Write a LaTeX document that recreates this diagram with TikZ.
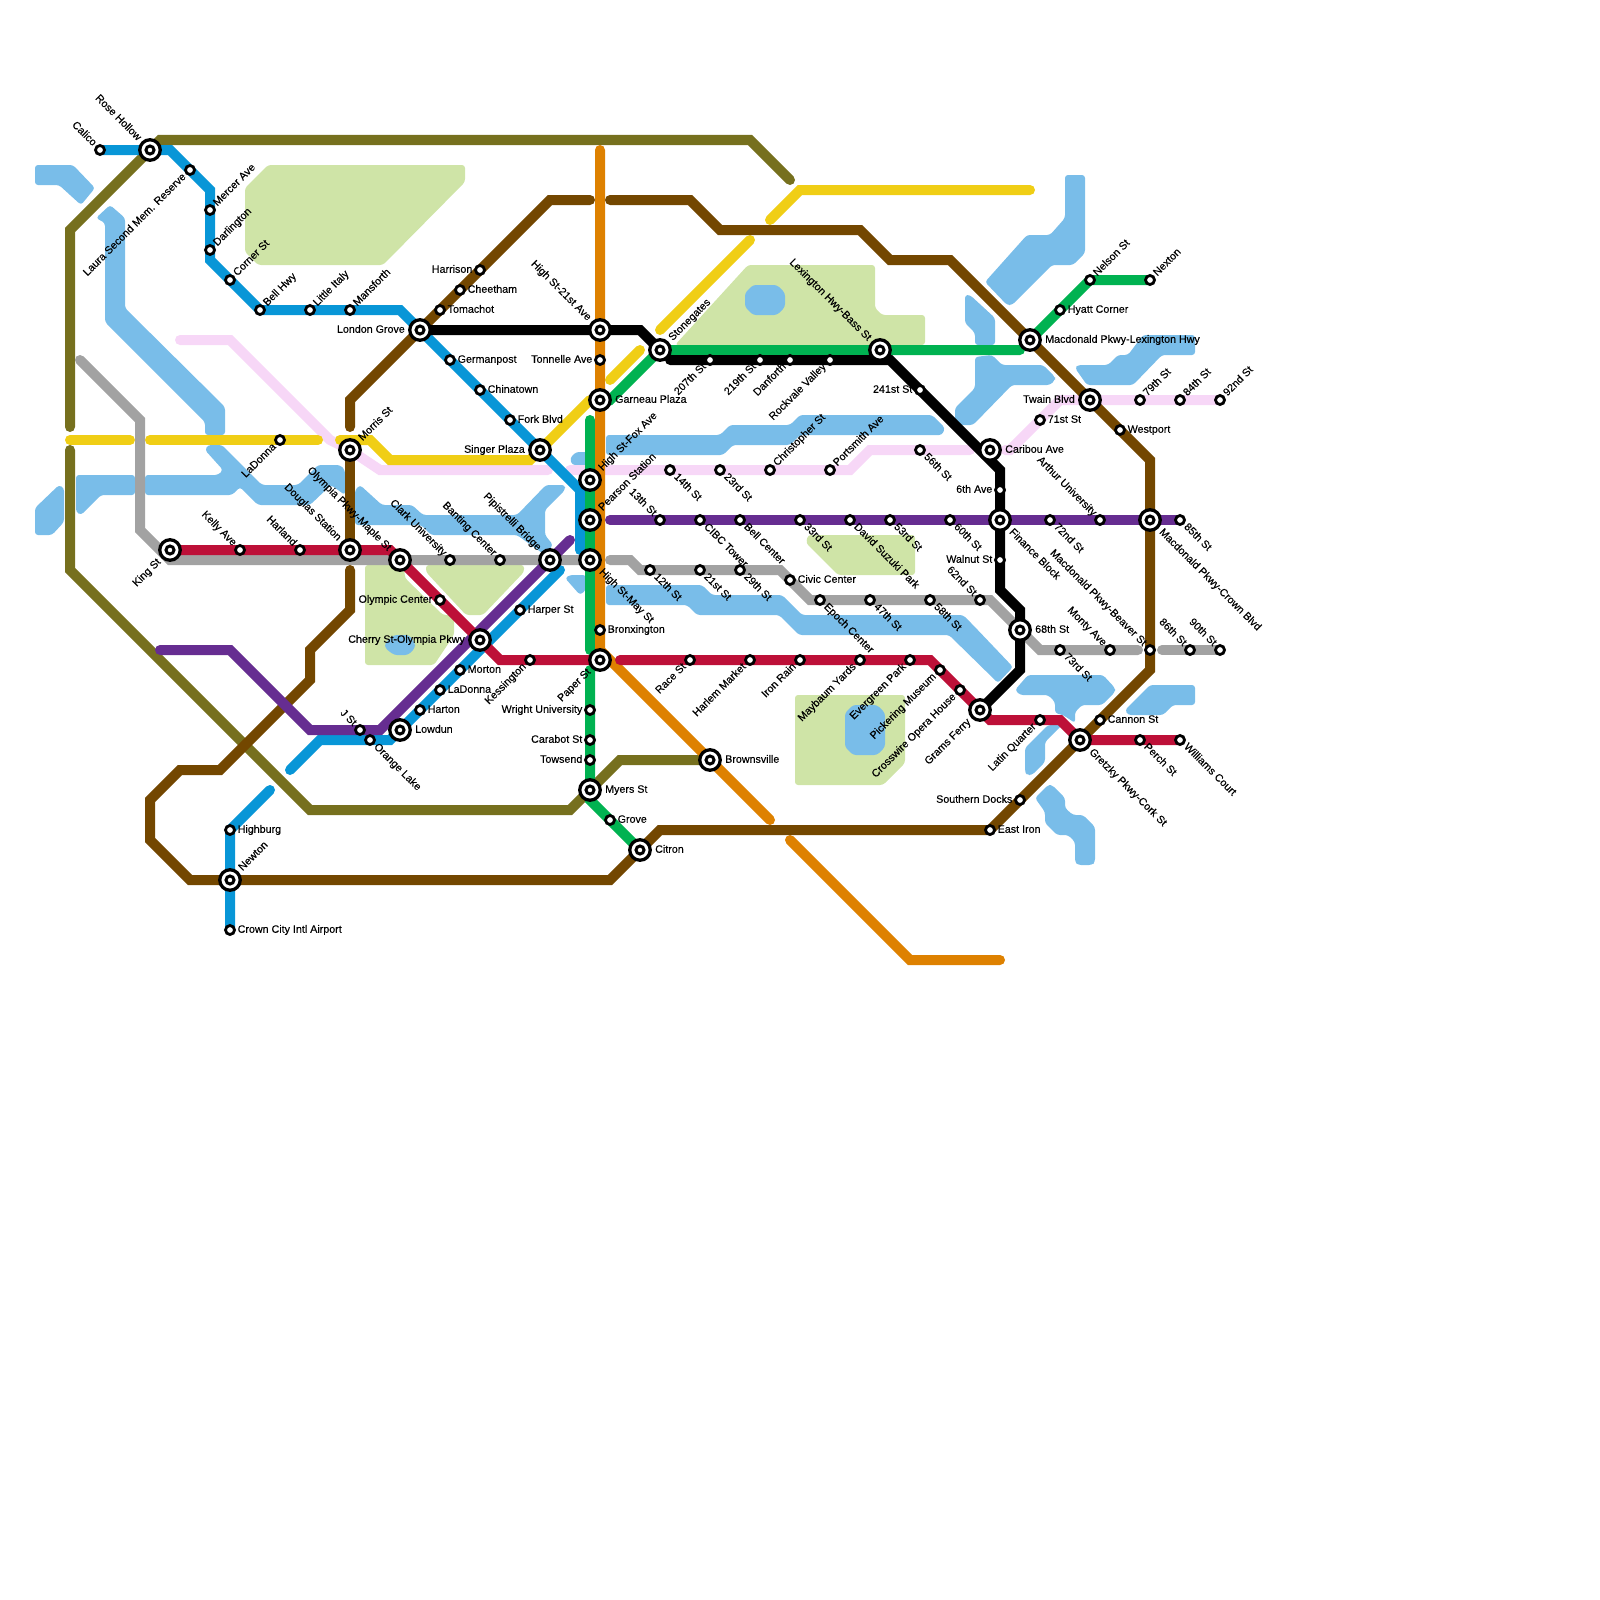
\documentclass[tikz,border=0pt]{standalone}
\usepackage{fontspec}
\setmainfont[FakeBold=0.2]{Liberation Sans}
\pgfdeclarelayer{top}
\pgfdeclarelayer{under}
\pgfsetlayers{under,main,top}
\definecolor{cWater}{HTML}{79BDE9}
\definecolor{cPark}{HTML}{CFE4A7}
\definecolor{cBlue}{HTML}{0896D7}
\definecolor{cOlive}{HTML}{76701E}
\definecolor{cBrown}{HTML}{734700}
\definecolor{cOrange}{HTML}{DE8100}
\definecolor{cYellow}{HTML}{F0CE15}
\definecolor{cPink}{HTML}{F7D7F7}
\definecolor{cPurple}{HTML}{662D91}
\definecolor{cRed}{HTML}{BD1038}
\definecolor{cGray}{HTML}{A2A2A2}
\definecolor{cGreen}{HTML}{00B251}
\tikzset{
  ln/.style={line width=10pt,line cap=round,line join=miter,miter limit=10},
  water/.style={fill=cWater,rounded corners=3pt},
  park/.style={fill=cPark,rounded corners=3pt},
  smst/.style={circle,draw=black,fill=white,line width=2.8pt,minimum size=9pt,inner sep=0pt,outer sep=0pt},
  inst/.style={circle,draw=black,fill=white,line width=3pt,minimum size=8pt,inner sep=0pt,outer sep=0pt},
  bigst/.style={circle,draw=black,fill=white,line width=3.3pt,minimum size=20.5pt,inner sep=0pt,outer sep=0pt},
  lbl/.style={font=\fontsize{10.7pt}{11pt}\selectfont,text height=7.6pt,text depth=2.1pt,inner ysep=0pt,text=black},
  lr/.style={lbl,anchor=west},
  ll/.style={lbl,anchor=east},
  lur/.style={lbl,anchor=west,rotate=45},
  ldr/.style={lbl,anchor=west,rotate=-45},
  lul/.style={lbl,anchor=east,rotate=-45},
  ldl/.style={lbl,anchor=east,rotate=45},
}
\newcommand\sm[5]{\coordinate (#1) at (#2,#3);
  \begin{pgfonlayer}{top}\node[smst] (m#1) at (#1) {};\node[#4,inner xsep=7.5pt] (t#1) at (#1) {#5};\end{pgfonlayer}}
\newcommand\ic[5]{\coordinate (#1) at (#2,#3);
  \begin{pgfonlayer}{top}\node[bigst] (m#1) at (#1) {};\node[inst] (c#1) at (#1) {};\node[#4,inner xsep=15pt] (t#1) at (#1) {#5};\end{pgfonlayer}}
\begin{document}
\begin{tikzpicture}[x=10pt,y=-10pt]
\useasboundingbox (0,0) rectangle (160,160);
% ---------- stations
\sm{calico}{10}{15}{lul}{Calico}
\ic{rose}{15}{15}{lul}{Rose Hollow}
\sm{laura}{19}{17}{ldl}{Laura Second Mem. Reserve}
\sm{mercer}{21}{21}{lur}{Mercer Ave}
\sm{darl}{21}{25}{lur}{Darlington}
\sm{corner}{23}{28}{lur}{Corner St}
\sm{bell}{26}{31}{lur}{Bell Hwy}
\sm{italy}{31}{31}{lur}{Little Italy}
\sm{mansf}{35}{31}{lur}{Mansforth}
\ic{london}{42}{33}{ll}{London Grove}
\sm{harrison}{48}{27}{ll}{Harrison}
\sm{cheetham}{46}{29}{lr}{Cheetham}
\sm{tomachot}{44}{31}{lr}{Tomachot}
\sm{german}{45}{36}{lr}{Germanpost}
\sm{china}{48}{39}{lr}{Chinatown}
\sm{fork}{51}{42}{lr}{Fork Blvd}
\ic{singer}{54}{45}{ll}{Singer Plaza}
\ic{hs21}{60}{33}{lul}{High St-21st Ave}
\sm{tonnelle}{60}{36}{ll}{Tonnelle Ave}
\ic{garneau}{60}{40}{lr}{Garneau Plaza}
\ic{stone}{66}{35}{lur}{Stonegates}
\sm{s207}{71}{36}{ldl}{207th St}
\sm{s219}{76}{36}{ldl}{219th St}
\sm{danforth}{79}{36}{ldl}{Danforth}
\sm{rockvale}{83}{36}{ldl}{Rockvale Valley}
\ic{lexbass}{88}{35}{lul}{Lexington Hwy-Bass St}
\sm{s241}{92}{39}{ll}{241st St}
\ic{caribou}{99}{45}{lr}{Caribou Ave}
\sm{sixth}{100}{49}{ll}{6th Ave}
\ic{finance}{100}{52}{ldr}{Finance Block}
\sm{walnut}{100}{56}{ll}{Walnut St}
\ic{hsfox}{59}{48}{lur}{High St-Fox Ave}
\ic{pearson}{59}{52}{lur}{Pearson Station}
\ic{hsmay}{59}{56}{ldr}{High St-May St}
\sm{s13}{66}{52}{lul}{13th St}
\sm{cibc}{70}{52}{ldr}{CIBC Tower}
\sm{bellc}{74}{52}{ldr}{Bell Center}
\sm{s33}{80}{52}{ldr}{33rd St}
\sm{suzuki}{85}{52}{ldr}{David Suzuki Park}
\sm{s53}{89}{52}{ldr}{53rd St}
\sm{s60}{95}{52}{ldr}{60th St}
\sm{s72}{105}{52}{ldr}{72nd St}
\sm{arthur}{110}{52}{lul}{Arthur University}
\ic{crown}{115}{52}{ldr}{Macdonald Pkwy-Crown Blvd}
\sm{s85}{118}{52}{ldr}{85th St}
\sm{s14}{67}{47}{ldr}{14th St}
\sm{s23}{72}{47}{ldr}{23rd St}
\sm{christ}{77}{47}{lur}{Christopher St}
\sm{ports}{83}{47}{lur}{Portsmith Ave}
\sm{s56}{92}{45}{ldr}{56th St}
\sm{s71}{104}{42}{lr}{71st St}
\ic{twain}{109}{40}{ll}{Twain Blvd}
\sm{s79}{114}{40}{lur}{79th St}
\sm{s84}{118}{40}{lur}{84th St}
\sm{s92}{122}{40}{lur}{92nd St}
\sm{westport}{112}{43}{lr}{Westport}
\ic{maclex}{103}{34}{lr}{Macdonald Pkwy-Lexington Hwy}
\sm{hyatt}{106}{31}{lr}{Hyatt Corner}
\sm{nelson}{109}{28}{lur}{Nelson St}
\sm{nexton}{115}{28}{lur}{Nexton}
\sm{ladonnan}{28}{44}{ldl}{LaDonna}
\ic{morris}{35}{45}{lur}{Morris St}
\ic{king}{17}{55}{ldl}{King St}
\sm{kelly}{24}{55}{lul}{Kelly Ave}
\sm{harland}{30}{55}{lul}{Harland}
\ic{douglas}{35}{55}{lul}{Douglas Station}
\ic{olympia}{40}{56}{lul}{Olympia Pkwy-Maple St}
\sm{clark}{45}{56}{lul}{Clark University}
\sm{banting}{50}{56}{lul}{Banting Center}
\ic{pipi}{55}{56}{lul}{Pipistrelli Bridge}
\sm{olympic}{44}{60}{ll}{Olympic Center}
\ic{cherry}{48}{64}{ll}{Cherry St-Olympia Pkwy}
\sm{harper}{52}{61}{lr}{Harper St}
\sm{morton}{46}{67}{lr}{Morton}
\sm{ladonnas}{44}{69}{lr}{LaDonna}
\sm{harton}{42}{71}{lr}{Harton}
\ic{lowdun}{40}{73}{lr}{Lowdun}
\sm{kess}{53}{66}{ldl}{Kessington}
\sm{jst}{36}{73}{lul}{J St}
\sm{orangel}{37}{74}{ldr}{Orange Lake}
\sm{highburg}{23}{83}{lr}{Highburg}
\ic{newton}{23}{88}{lur}{Newton}
\sm{airport}{23}{93}{lr}{Crown City Intl Airport}
\sm{s12}{65}{57}{ldr}{12th St}
\sm{s21}{70}{57}{ldr}{21st St}
\sm{s29}{74}{57}{ldr}{29th St}
\sm{civic}{79}{58}{lr}{Civic Center}
\sm{epoch}{82}{60}{ldr}{Epoch Center}
\sm{s47}{87}{60}{ldr}{47th St}
\sm{s58}{93}{60}{ldr}{58th St}
\sm{s62}{98}{60}{lul}{62nd St}
\ic{s68}{102}{63}{lr}{68th St}
\sm{s73}{106}{65}{ldr}{73rd St}
\sm{monty}{111}{65}{lul}{Monty Ave}
\sm{beaver}{115}{65}{lul}{Macdonald Pkwy-Beaver St}
\sm{s86}{119}{65}{lul}{86th St}
\sm{s90}{122}{65}{lul}{90th St}
\sm{bronx}{60}{63}{lr}{Bronxington}
\ic{paper}{60}{66}{ldl}{Paper St}
\sm{wright}{59}{71}{ll}{Wright University}
\sm{carabot}{59}{74}{ll}{Carabot St}
\sm{towsend}{59}{76}{ll}{Towsend}
\ic{myers}{59}{79}{lr}{Myers St}
\sm{grove}{61}{82}{lr}{Grove}
\ic{citron}{64}{85}{lr}{Citron}
\ic{browns}{71}{76}{lr}{Brownsville}
\sm{race}{69}{66}{ldl}{Race St}
\sm{harlem}{75}{66}{ldl}{Harlem Market}
\sm{iron}{80}{66}{ldl}{Iron Rain}
\sm{maybaum}{86}{66}{ldl}{Maybaum Yards}
\sm{evergreen}{91}{66}{ldl}{Evergreen Park}
\sm{picker}{94}{67}{ldl}{Pickering Museum}
\sm{crosswire}{96}{69}{ldl}{Crosswire Opera House}
\ic{grams}{98}{71}{ldl}{Grams Ferry}
\sm{latin}{104}{72}{ldl}{Latin Quarter}
\ic{gretzky}{108}{74}{ldr}{Gretzky Pkwy-Cork St}
\sm{cannon}{110}{72}{lr}{Cannon St}
\sm{perch}{114}{74}{ldr}{Perch St}
\sm{williams}{118}{74}{ldr}{Williams Court}
\sm{docks}{102}{80}{ll}{Southern Docks}
\sm{eastiron}{99}{83}{lr}{East Iron}
% ---------- free line ends
\coordinate (oliveA) at (79,18); \coordinate (oliveB) at (7,42.7); \coordinate (oliveC) at (7,45);
\coordinate (brownA) at (59,20); \coordinate (brownB) at (35,42.7); \coordinate (brownC) at (35,57); \coordinate (brownD) at (61,20);
\coordinate (blueA) at (58,55); \coordinate (blueB) at (29,77); \coordinate (blueC) at (56,57); \coordinate (blueD) at (27,79);
\coordinate (purpA) at (16,65); \coordinate (purpB) at (57,54); \coordinate (purpC) at (61,52);
\coordinate (redA) at (59,66); \coordinate (redB) at (62,66);
\coordinate (grayA) at (8,36); \coordinate (grayB) at (61,56); \coordinate (grayC) at (113.8,65); \coordinate (grayD) at (116.2,65);
\coordinate (greenA) at (59,42); \coordinate (greenB) at (59,65); \coordinate (greenC) at (59,67); \coordinate (greenD) at (102,35);
\coordinate (blackA) at (67,36);
\coordinate (orangeA) at (60,15); \coordinate (orangeB) at (77,82); \coordinate (orangeC) at (79,84); \coordinate (orangeD) at (100,96);
\coordinate (yelA) at (7,44); \coordinate (yelB) at (13,44); \coordinate (yelC) at (15,44); \coordinate (yelD) at (31.8,44);
\coordinate (yelE) at (34,44); \coordinate (yelF) at (59,40); \coordinate (yelG) at (61,38); \coordinate (yelH) at (64,35);
\coordinate (yelI) at (66,33); \coordinate (yelJ) at (75,24); \coordinate (yelK) at (77,22); \coordinate (yelL) at (103,19);
\coordinate (pinkA) at (18,34); \coordinate (pinkB) at (54.8,47); \coordinate (pinkC) at (57,47); \coordinate (pinkD) at (97,45); \coordinate (pinkE) at (100.5,45);
% ---------- water and parks
\begin{pgfonlayer}{under}
\begin{scope}[x=1pt,y=-1pt]
\fill[park] (268,165)--(465,165)--(465,182)--(383,265)--(258,265)--(245,252)--(245,188)--cycle;
\fill[park] (748,265)--(875,265)--(875,308)--(882,315)--(925,315)--(925,345)--(675,345)--cycle;
\fill[park] (808,535)--(915,535)--(915,575)--(838,575)--(806,543)--cycle;
\fill[park] (795,695)--(905,695)--(905,763)--(883,785)--(795,785)--cycle;
\fill[park] (365,565)--(404,565)--(405,578)--(443,615)--(454,615)--(454,635)--(434,665)--(365,665)--cycle;
\fill[park] (426,565)--(524,565)--(524,572)--(483,615)--(466,615)--(426,572)--cycle;
\fill[water] (35,165)--(73,165)--(95,188)--(81,205)--(59,185)--(35,185)--cycle;
\fill[water] (110,205)--(125,218)--(125,308)--(225,407)--(225,435)--(205,435)--(205,422)--(105,322)--(105,223)--(96,218)--cycle;
\fill[water] (76,475)--(135,475)--(135,495)--(101,495)--(81,515)--(76,512)--cycle;
\fill[water] (35,508)--(59,485)--(64,488)--(64,522)--(52,535)--(35,535)--cycle;
\fill[water] (145,475)--(218,475)--(223,470)--(205,450)--(208,445)--(222,445)--(262,485)--(298,485)--(318,465)--(340,465)--(345,470)--(345,495)--(331,485)--(310,505)--(258,505)--(240,487)--(232,495)--(145,495)--cycle;
\fill[water] (360,485)--(382,505)--(412,505)--(423,515)--(517,515)--(546,485)--(565,485)--(565,490)--(545,510)--(545,535)--(553,545)--(545,555)--(517,535)--(431,535)--(421,525)--(355,525)--(355,490)--cycle;
\fill[water] (570,458)--(576,452)--(590,452)--(590,465)--(572,465)--cycle;
\fill[water] (606,435)--(720,435)--(730,425)--(790,425)--(800,415)--(932,415)--(945,428)--(942,435)--(800,435)--(790,445)--(733,445)--(723,455)--(606,455)--cycle;
\fill[water] (606,585)--(702,585)--(712,595)--(782,595)--(802,615)--(963,615)--(973,625)--(1013,667)--(998,683)--(949,635)--(799,635)--(779,615)--(697,615)--(687,605)--(606,605)--cycle;
\fill[water] (565,578)--(570,575)--(586,575)--(586,590)--(580,595)--cycle;
\fill[water] (1065,175)--(1085,175)--(1085,253)--(1073,265)--(1052,265)--(1012,305)--(1007,305)--(985,282)--(1027,235)--(1050,235)--(1065,218)--cycle;
\fill[water] (965,295)--(970,295)--(995,318)--(995,345)--(975,345)--(975,333)--(965,323)--cycle;
\fill[water] (975,357)--(992,355)--(1002,365)--(1043,365)--(1055,377)--(1055,380)--(1050,385)--(1012,385)--(973,425)--(955,425)--(955,408)--(975,388)--cycle;
\fill[water] (1075,368)--(1078,365)--(1108,365)--(1118,355)--(1128,355)--(1143,335)--(1195,335)--(1195,355)--(1162,355)--(1133,385)--(1087,385)--cycle;
\fill[water] (1015,690)--(1028,675)--(1103,675)--(1115,688)--(1115,692)--(1102,705)--(1082,705)--(1075,712)--(1075,723)--(1063,715)--(1055,713)--(1055,702)--(1048,695)--(1020,695)--cycle;
\fill[water] (1048,725)--(1062,725)--(1045,742)--(1045,762)--(1032,775)--(1027,775)--(1025,772)--(1025,748)--cycle;
\fill[water] (1125,710)--(1150,685)--(1195,685)--(1195,705)--(1173,705)--(1163,715)--(1128,715)--cycle;
\fill[water] (1035,798)--(1048,785)--(1052,785)--(1065,798)--(1065,808)--(1073,815)--(1083,815)--(1095,827)--(1095,862)--(1092,865)--(1078,865)--(1075,862)--(1075,842)--(1068,835)--(1057,835)--(1045,823)--(1045,812)--cycle;
\fill[water] (745,293)--(753,285)--(777,285)--(785,293)--(785,307)--(777,315)--(753,315)--(745,307)--cycle;
\fill[water] (385,643)--(394,635)--(409,635)--(415,643)--(415,648)--(408,655)--(394,655)--(385,648)--cycle;
\fill[water] (845,713)--(853,705)--(877,705)--(885,713)--(885,747)--(877,755)--(853,755)--(845,747)--cycle;
\end{scope}
\end{pgfonlayer}
% ---------- lines
\draw[ln,cOlive] (oliveA) -- (75,14) -- (16,14) -- (7,23) -- (oliveB);
\draw[ln,cOlive] (oliveC) -- (7,57) -- (31,81) -- (57,81) -- (62,76) -- (browns);
\draw[ln,cGray] (grayA) -- (14,42) -- (14,53) -- (17,56) -- (hsmay);
\draw[ln,cGray] (grayB) -- (63,56) -- (64,57) -- (78,57) -- (81,60) -- (99,60) -- (104,65) -- (grayC);
\draw[ln,cGray] (grayD) -- (s90);
\draw[ln,cPink] (pinkA) -- (23,34) -- (33,44) -- (35,45) -- (38,47) -- (pinkB);
\draw[ln,cPink] (pinkC) -- (85,47) -- (87,45) -- (pinkD);
\draw[ln,cPink] (pinkE) -- (101,45) -- (106,40) -- (s92);
\draw[ln,cYellow] (yelA) -- (yelB);
\draw[ln,cYellow] (yelC) -- (yelD);
\draw[ln,cYellow] (yelE) -- (37,44) -- (39,46) -- (53,46) -- (yelF);
\draw[ln,cYellow] (yelG) -- (yelH);
\draw[ln,cYellow] (yelI) -- (yelJ);
\draw[ln,cYellow] (yelK) -- (80,19) -- (yelL);
\draw[ln,cOrange] (orangeA) -- (60,65) -- (orangeB);
\draw[ln,cOrange] (orangeC) -- (91,96) -- (orangeD);
\draw[ln,cBrown] (brownA) -- (55,20) -- (35,40) -- (brownB);
\draw[ln,cBrown] (morris) -- (douglas);
\draw[ln,cBrown] (brownC) -- (35,61) -- (31,65) -- (31,68) -- (22,77) -- (18,77) -- (15,80) -- (15,84) -- (19,88) -- (61,88) -- (66,83) -- (eastiron) -- (115,67) -- (115,46) -- (95,26) -- (89,26) -- (86,23) -- (72,23) -- (69,20) -- (brownD);
\draw[ln,cBlue] (calico) -- (17,15) -- (21,19) -- (21,26) -- (26,31) -- (40,31) -- (singer) -- (58,49) -- (blueA);
\draw[ln,cBlue] (blueB) -- (32,74) -- (39,74) -- (blueC);
\draw[ln,cBlue] (blueD) -- (highburg) -- (airport);
\draw[ln,cPurple] (purpA) -- (23,65) -- (31,73) -- (38,73) -- (purpB);
\draw[ln,cPurple] (purpC) -- (s85);
\draw[ln,cRed] (king) -- (39,55) -- (50,66) -- (redA);
\draw[ln,cRed] (redB) -- (93,66) -- (grams) -- (99,72) -- (106,72) -- (gretzky) -- (williams);
\draw[ln,cGreen] (greenA) -- (greenB);
\draw[ln,cGreen] (greenC) -- (59,80) -- (citron);
\draw[ln,cGreen] (garneau) -- (61,40) -- (stone) -- (greenD);
\draw[ln,cGreen] (maclex) -- (nelson) -- (nexton);
\draw[ln,black] (london) -- (64,33) -- (stone);
\draw[ln,black] (blackA) -- (89,36) -- (100,47) -- (100,59) -- (102,61) -- (102,67) -- (grams);
\end{tikzpicture}
\end{document}
